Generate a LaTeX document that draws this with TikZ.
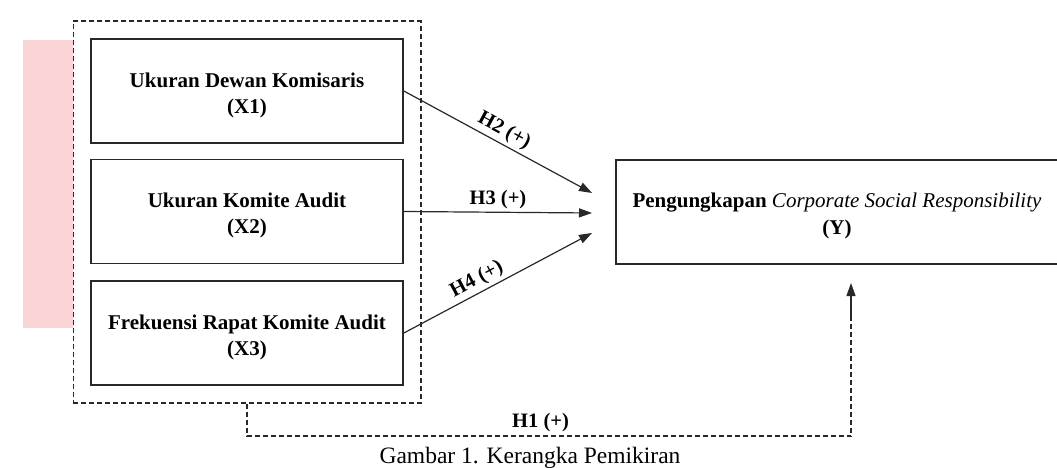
\documentclass[tikz,border=0pt]{standalone}
\usepackage{fontspec}
\setmainfont{Liberation Serif}
\usetikzlibrary{arrows.meta,fit}
\definecolor{wmpink}{RGB}{250,212,214}
\definecolor{linegray}{RGB}{40,40,40}
\newcommand\toppad{\rule{0pt}{23pt}}
\begin{document}
\begin{tikzpicture}[x=1pt,y=-1pt,
  box/.style={draw=linegray, line width=1.7pt, minimum width=312pt, minimum height=104pt,
    inner sep=0pt, align=center, font=\fontsize{21}{26}\selectfont\bfseries},
  grp/.style={draw=linegray, line width=1.3pt, dash pattern=on 5pt off 3pt, inner sep=17pt},
  arr/.style={-{Triangle[length=13pt,width=9pt]}, draw=linegray, line width=1.2pt},
  dline/.style={draw=linegray, line width=1.3pt, dash pattern=on 5pt off 3pt},
  lbl/.style={font=\fontsize{20.5}{24}\selectfont\bfseries, inner sep=3pt}]
\useasboundingbox (0,0) rectangle (1057,468);
\fill[wmpink] (23,40) rectangle (73,328);

\node[box] (x1) at (247,91) {\toppad Ukuran Dewan Komisaris\\(X1)};
\node[box] (x2) at (247,211.5) {\toppad Ukuran Komite Audit\\(X2)};
\node[box] (x3) at (247,333) {\toppad Frekuensi Rapat Komite Audit\\(X3)};
\node[grp, fit=(x1)(x3)] (g) {};

\node[box, minimum width=442pt, font=\fontsize{21}{27}\selectfont] (y) at (837,212)
  {\toppad\textbf{Pengungkapan} \textit{Corporate Social Responsibility}\\\textbf{(Y)}};

\coordinate (t2) at (592,193);
\coordinate (t3) at (592,213);
\coordinate (t4) at (592,233);
\draw[arr] (x1.east) -- node[lbl, sloped, above, pos=0.5] {H2 (+)} (t2);
\draw[arr] (x2.east) -- node[lbl, above, pos=0.5] {H3 (+)} (t3);
\draw[arr] (x3.east) -- node[lbl, sloped, above, pos=0.42] {H4 (+)} (t4);

\coordinate (c1) at (851,436);
\coordinate (c2) at (851,318);
\coordinate (t1) at (851,283);
\draw[dline] (g.south) |- node[lbl, above, pos=0.743] {H1 (+)} (c1) -- (c2);
\draw[arr] (c2) -- (t1);

\node[anchor=base, font=\fontsize{23.5}{26}\selectfont, inner sep=0pt] (cap) at (530,463)
  {Gambar 1. Kerangka Pemikiran};
\end{tikzpicture}
\end{document}
